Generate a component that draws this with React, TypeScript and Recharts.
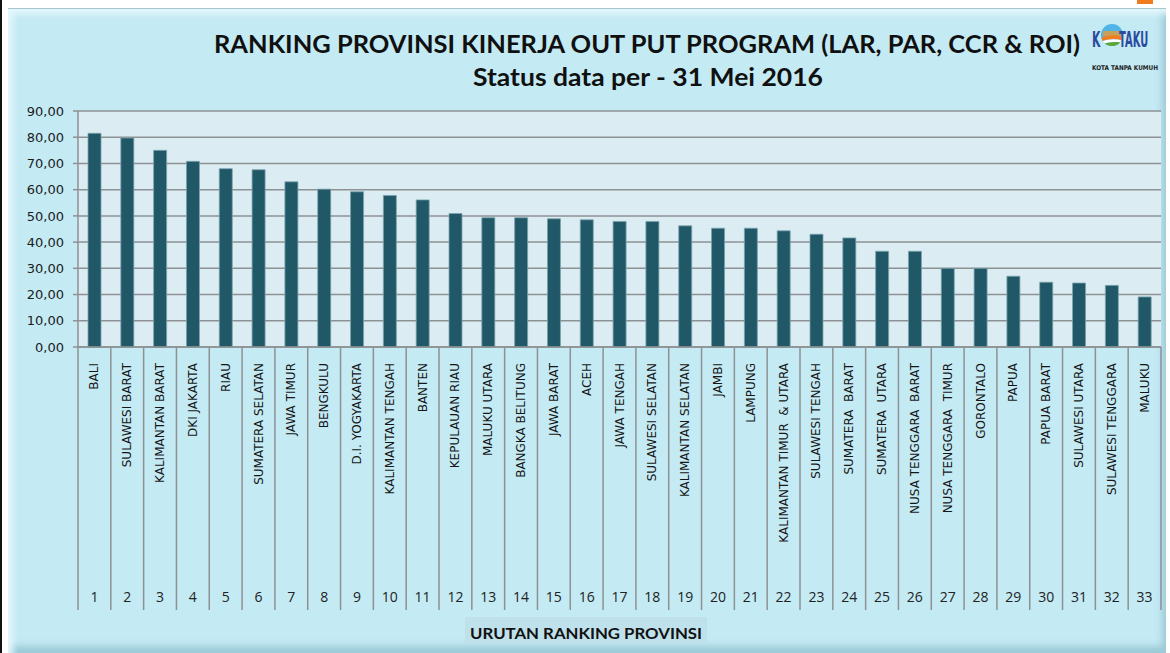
import React from "react";
import { BarChart, Bar, XAxis, YAxis, CartesianGrid } from "recharts";

// ranking order, best first
const PROVINCES = [
  "BALI",
  "SULAWESI BARAT",
  "KALIMANTAN BARAT",
  "DKI JAKARTA",
  "RIAU",
  "SUMATERA SELATAN",
  "JAWA TIMUR",
  "BENGKULU",
  "D.I. YOGYAKARTA",
  "KALIMANTAN TENGAH",
  "BANTEN",
  "KEPULAUAN RIAU",
  "MALUKU UTARA",
  "BANGKA BELITUNG",
  "JAWA BARAT",
  "ACEH",
  "JAWA TENGAH",
  "SULAWESI SELATAN",
  "KALIMANTAN SELATAN",
  "JAMBI",
  "LAMPUNG",
  "KALIMANTAN TIMUR  & UTARA",
  "SULAWESI TENGAH",
  "SUMATERA  BARAT",
  "SUMATERA  UTARA",
  "NUSA TENGGARA  BARAT",
  "NUSA TENGGARA  TIMUR",
  "GORONTALO",
  "PAPUA",
  "PAPUA BARAT",
  "SULAWESI UTARA",
  "SULAWESI TENGGARA",
  "MALUKU",
];

const SCORES = [
  81.5, 79.7, 75.0, 70.8, 68.0, 67.6, 63.0, 60.2, 59.2, 57.8, 56.1, 50.9, 49.3,
  49.3, 48.9, 48.5, 47.9, 47.9, 46.2, 45.3, 45.3, 44.3, 43.0, 41.6, 36.5, 36.5,
  30.0, 30.0, 27.0, 24.7, 24.4, 23.5, 19.1,
];

const RANKS = [
  1, 2, 3, 4, 5, 6, 7, 8, 9, 10, 11, 12, 13, 14, 15, 16, 17, 18, 19, 20, 21,
  22, 23, 24, 25, 26, 27, 28, 29, 30, 31, 32, 33,
];

const Y_TICKS = [0, 10, 20, 30, 40, 50, 60, 70, 80, 90];

const TITLE = "RANKING PROVINSI KINERJA OUT PUT PROGRAM (LAR, PAR, CCR & ROI)";
const SUBTITLE = "Status data per - 31 Mei 2016";
const X_TITLE = "URUTAN RANKING PROVINSI";

const W = 1170;
const H = 653;
const MARGIN = { top: 111, right: 9, left: 0, bottom: 43 };
const Y_AXIS_W = 78;
const X_AXIS_H = 263;
const GRID = "#8e9193";

const data = PROVINCES.map((name, i) => ({
  name,
  score: SCORES[i],
  rank: RANKS[i],
}));

const bandWidth = (W - MARGIN.left - MARGIN.right - Y_AXIS_W) / data.length;

function CategoryTick(props: any) {
  const { x, y, index, payload } = props;
  const half = bandWidth / 2;
  const last = index === data.length - 1;
  return (
    <g>
      <line x1={x - half} x2={x - half} y1={y} y2={y + X_AXIS_H} stroke={GRID} strokeWidth={1.5} />
      {last && (
        <line x1={x + half} x2={x + half} y1={y} y2={y + X_AXIS_H} stroke={GRID} strokeWidth={1.5} />
      )}
      <text
        x={x + 4}
        y={y + 16}
        transform={`rotate(-90, ${x + 4}, ${y + 16})`}
        textAnchor="end"
        fontSize={12}
        fontFamily="DejaVu Sans"
        fill="#161616"
        style={{ whiteSpace: "pre" }}
      >
        {payload.value}
      </text>
      <text
        x={x}
        y={y + 255}
        textAnchor="middle"
        fontSize={14}
        fontFamily="Open Sans"
        fill="#222"
      >
        {data[index].rank}
      </text>
    </g>
  );
}

function Logo() {
  return (
    <g>
      <defs>
        <clipPath id="logoO">
          <circle cx={1112} cy={35} r={11} />
        </clipPath>
      </defs>
      <text
        transform="translate(1092,47) scale(0.72,1.4)"
        fontSize={15}
        fontWeight="bold"
        fontFamily="DejaVu Sans"
        fill="#2b4c9e"
      >
        K
      </text>
      <g clipPath="url(#logoO)">
        <rect x={1100} y={23} width={24} height={24} fill="#4fb4e6" />
        <rect x={1103} y={31} width={18} height={5} fill="#c8a05a" />
        <path d="M1100 38 Q1112 33 1124 37 L1124 41 Q1112 37 1100 42 Z" fill="#ef7d22" />
        <path d="M1100 42 Q1112 37 1124 41 L1124 43 Q1112 40 1100 45 Z" fill="#ffffff" />
        <path d="M1100 45 Q1112 40 1124 43 L1124 47 L1100 47 Z" fill="#5aa832" />
      </g>
      <text
        transform="translate(1119,47) scale(0.66,1.4)"
        fontSize={15}
        fontWeight="bold"
        fontFamily="DejaVu Sans"
        fill="#2b4c9e"
      >
        TAKU
      </text>
      <text
        x={1092}
        y={70}
        fontSize={6.5}
        fontWeight="bold"
        fontFamily="DejaVu Sans"
        fill="#222"
        textLength={66}
        lengthAdjust="spacingAndGlyphs"
      >
        KOTA TANPA KUMUH
      </text>
    </g>
  );
}

export default function App() {
  return (
    <div style={{ position: "absolute", left: 0, top: 0, width: W, height: H, background: "#fff", overflow: "hidden" }}>
      {/* page edge + tab marker */}
      <div style={{ position: "absolute", left: 0, top: 0, width: 2, height: H, background: "#111" }} />
      <div style={{ position: "absolute", left: 1137, top: 0, width: 16, height: 4, background: "#f07a1c" }} />
      {/* chart frame */}
      <div
        style={{
          position: "absolute",
          left: 8,
          top: 8,
          width: 1158,
          height: H - 8,
          background: "#c4eaf4",
          borderTop: "1px solid #a9c4cc",
          boxShadow:
            "inset 7px 7px 6px -2px #e3f7fc, inset -7px -11px 7px -3px #9ccad7",
        }}
      />
      {/* axis title box */}
      <div style={{ position: "absolute", left: 465, top: 617, width: 242, height: 26, background: "#bfe1eb" }} />

      <div style={{ position: "absolute", left: 0, top: 0 }}>
        <BarChart width={W} height={H} data={data} margin={MARGIN} barCategoryGap={0}>
          <CartesianGrid vertical={false} stroke={GRID} strokeWidth={1.5} fill="#dbedf3" fillOpacity={1} />
          <YAxis
            width={Y_AXIS_W}
            domain={[0, 90]}
            ticks={Y_TICKS}
            interval={0}
            tickFormatter={(v: number) => v.toFixed(2).replace(".", ",")}
            tick={{ fontSize: 13, fontFamily: "DejaVu Sans", fill: "#1c1c1c" }}
            axisLine={{ stroke: GRID, strokeWidth: 1.5 }}
            tickLine={{ stroke: GRID, strokeWidth: 1.5 }}
            tickSize={5}
            tickMargin={9}
          />
          <XAxis
            dataKey="name"
            height={X_AXIS_H}
            interval={0}
            tick={<CategoryTick />}
            tickLine={false}
            tickSize={0}
            tickMargin={0}
            axisLine={{ stroke: GRID, strokeWidth: 1.5 }}
          />
          <Bar
            dataKey="score"
            fill="#215868"
            stroke="#7ba3ad"
            strokeWidth={0.8}
            barSize={13}
            isAnimationActive={false}
          />
        </BarChart>
      </div>

      <svg width={W} height={H} style={{ position: "absolute", left: 0, top: 0, pointerEvents: "none" }}>
        <text
          x={647}
          y={53}
          textAnchor="middle"
          fontSize={24}
          fontWeight="bold"
          fontFamily="Lato"
          fill="#101010"
          textLength={866}
          lengthAdjust="spacingAndGlyphs"
        >
          {TITLE}
        </text>
        <text
          x={648}
          y={86}
          textAnchor="middle"
          fontSize={24}
          fontWeight="bold"
          fontFamily="Lato"
          fill="#101010"
          textLength={350}
          lengthAdjust="spacingAndGlyphs"
        >
          {SUBTITLE}
        </text>
        <text
          x={586}
          y={639}
          textAnchor="middle"
          fontSize={16}
          fontWeight="bold"
          fontFamily="Lato"
          fill="#111"
          textLength={232}
          lengthAdjust="spacingAndGlyphs"
        >
          {X_TITLE}
        </text>
        <Logo />
      </svg>
    </div>
  );
}
